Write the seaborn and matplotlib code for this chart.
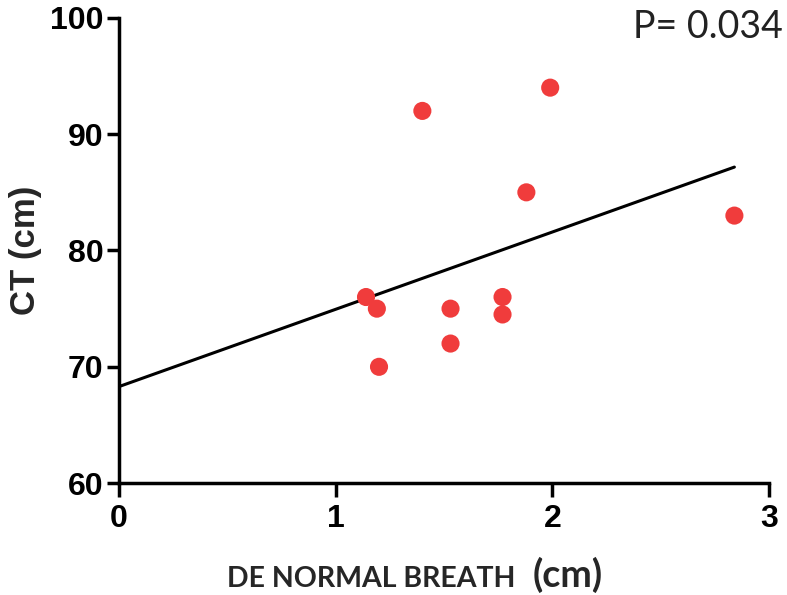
import numpy as np
import pandas as pd
import matplotlib
matplotlib.use("Agg")
import matplotlib.pyplot as plt
import seaborn as sns

# Data
de_normal = [1.14, 1.19, 1.20, 1.40, 1.53, 1.53, 1.77, 1.77, 1.88, 1.99, 2.84]
ct_cm = [76.0, 75.0, 70.0, 92.0, 75.0, 72.0, 76.0, 74.5, 85.0, 94.0, 83.0]
x_ticks = [0, 1, 2, 3]
y_ticks = [60, 70, 80, 90, 100]
p_text = "P= 0.034"

df = pd.DataFrame({"de": de_normal, "ct": ct_cm})

sns.set_style("ticks")
plt.rcParams["font.family"] = ["Liberation Sans", "DejaVu Sans"]

fig = plt.figure(figsize=(7.87, 5.95), dpi=100)
ax = fig.add_axes([0.1512, 0.188, 0.826, 0.782])

sns.scatterplot(data=df, x="de", y="ct", ax=ax, s=170, color="#F03C3C",
                edgecolor="none", zorder=3)

# linear fit line from x=0 to max x
slope, intercept = np.polyfit(df["de"], df["ct"], 1)
fit_x = np.array([0.0, df["de"].max()])
fit_df = pd.DataFrame({"x": fit_x, "y": intercept + slope * fit_x})
sns.lineplot(data=fit_df, x="x", y="y", ax=ax, color="black", lw=2.2, zorder=2)

ax.set_xlim(0, 3)
ax.set_ylim(60, 100)
ax.set_xticks(x_ticks)
ax.set_yticks(y_ticks)
ax.set_xticklabels([str(t) for t in x_ticks], fontsize=23, fontweight="bold")
ax.set_yticklabels([str(t) for t in y_ticks], fontsize=23, fontweight="bold")
ax.tick_params(axis="x", direction="out", length=10, width=2.5, pad=5, colors="black")
ax.tick_params(axis="y", direction="out", length=9, width=2.5, pad=2, colors="black")
for side in ["left", "bottom"]:
    ax.spines[side].set_linewidth(2.5)
    ax.spines[side].set_color("black")
sns.despine(ax=ax)

ax.set_xlabel("")
ax.set_ylabel("CT (cm)", fontsize=25, fontweight="bold", labelpad=6)

fig.text(0.2885, 0.014, "DE NORMAL BREATH", fontsize=20.5, fontweight="bold",
         family=["Lato", "DejaVu Sans"], ha="left", va="baseline")
fig.text(0.677, 0.014, "(cm)", fontsize=27, fontweight="bold",
         family=["Lato", "DejaVu Sans"], ha="left", va="baseline")

fig.text(0.995, 0.985, p_text, fontsize=27,
         family=["Lato", "DejaVu Sans"], ha="right", va="top", color="#222222")

fig.savefig("out.png", dpi=100)
